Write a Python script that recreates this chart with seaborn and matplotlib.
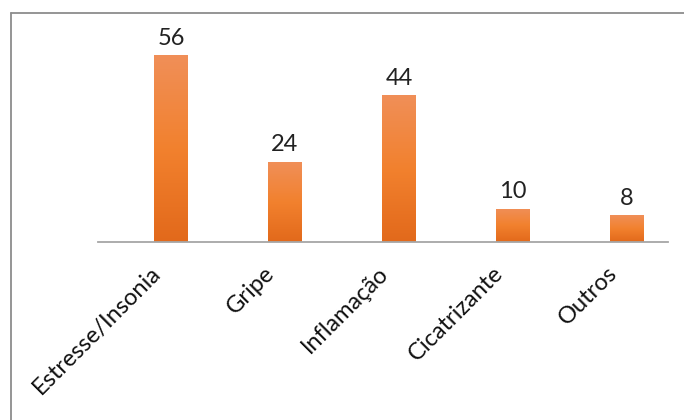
import numpy as np
import pandas as pd
import matplotlib
matplotlib.use("Agg")
import matplotlib.pyplot as plt
import matplotlib.transforms as mtrans
import seaborn as sns
from matplotlib.colors import LinearSegmentedColormap
from matplotlib.lines import Line2D

categories = ["Estresse/Insonia", "Gripe", "Inflamação", "Cicatrizante", "Outros"]
values = [56, 24, 44, 10, 8]

sns.set_theme(style="white")
plt.rcParams['font.family'] = ['Lato', 'DejaVu Sans']

df = pd.DataFrame({"cat": categories, "val": values})

fig = plt.figure(figsize=(6.84, 4.20), dpi=100)
ax = fig.add_axes([98/684, (420-242)/420, (668-98)/684, 200/420])

sns.barplot(data=df, x="cat", y="val", color="#F07F2A", width=0.29, ax=ax,
            saturation=1, edgecolor="none")
ax.set_ylim(0, 60)
ax.set_xlim(-0.64, 4.36)

cmap = LinearSegmentedColormap.from_list("g", ["#E2691B", "#F2812E", "#F08F58"])
grad = np.linspace(0, 1, 256).reshape(-1, 1)
for p in ax.patches:
    x0, y0 = p.get_x(), p.get_y()
    w, h = p.get_width(), p.get_height()
    im = ax.imshow(grad, cmap=cmap, origin="lower", aspect="auto",
                   extent=[x0, x0 + w, y0, y0 + h], zorder=p.get_zorder() + 0.1)
    im.set_clip_path(p)

for i, v in enumerate(values):
    ax.text(i, v + 2.0, str(v), ha="center", va="bottom", fontsize=17, color="#222222")

ax.set_xlabel("")
ax.set_ylabel("")
ax.set_yticks([])
ax.set_xticklabels(categories, rotation=45, ha="right", rotation_mode="anchor",
                   fontsize=17, color="#111111")
ax.tick_params(axis="x", length=0, pad=15)
offset = mtrans.ScaledTranslation(-21/100, 0, fig.dpi_scale_trans)
for lbl in ax.get_xticklabels():
    lbl.set_transform(lbl.get_transform() + offset)
for s in ["top", "right", "left"]:
    ax.spines[s].set_visible(False)
ax.spines["bottom"].set_color("#A6A6A6")
ax.spines["bottom"].set_linewidth(1.3)

fig.add_artist(Line2D([11/684, 11/684], [0, 1 - 13/420], transform=fig.transFigure,
                      color="#8C8C8C", lw=1.3))
fig.add_artist(Line2D([11/684, 1], [1 - 13/420, 1 - 13/420], transform=fig.transFigure,
                      color="#8C8C8C", lw=1.3))

fig.savefig("out.png", dpi=100)
